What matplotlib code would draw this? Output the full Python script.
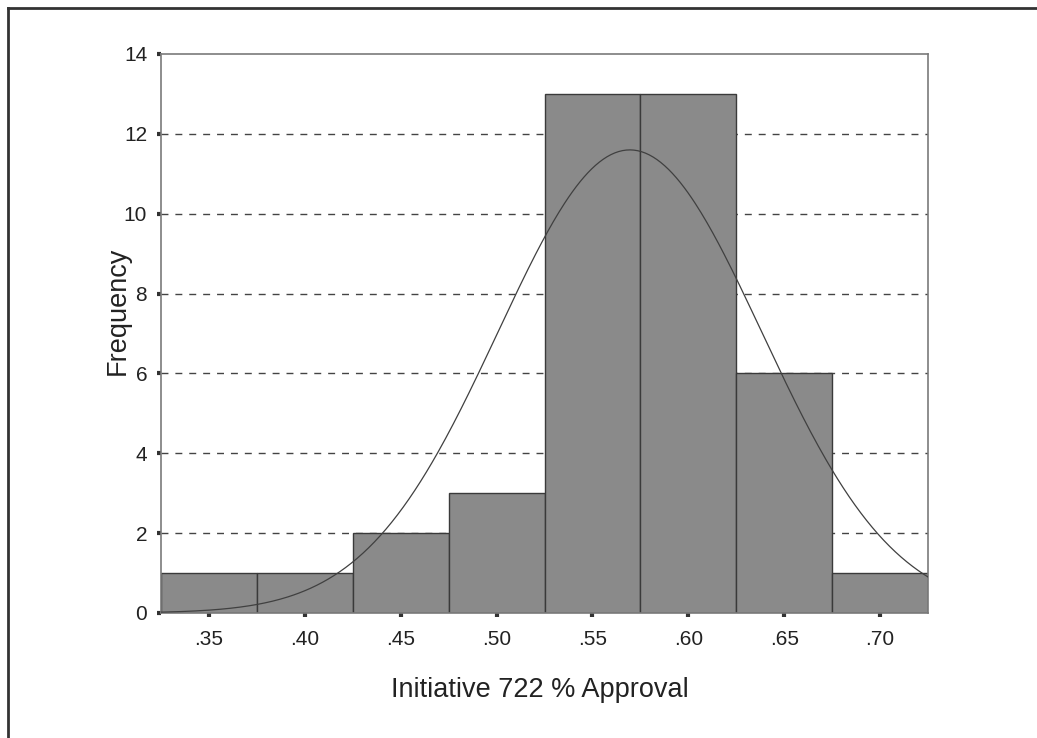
import numpy as np
import matplotlib.pyplot as plt
from matplotlib.lines import Line2D

plt.rcParams['font.family'] = ['Liberation Sans', 'DejaVu Sans']

# histogram bins (left edges) and counts
bin_edges = [0.325, 0.375, 0.425, 0.475, 0.525, 0.575, 0.625, 0.675, 0.725]
counts = [1, 1, 2, 3, 13, 13, 6, 1]

# fitted normal curve parameters
n_obs = 40
mean = 0.5695
std_dev = 0.0688

x_ticks = [0.35, 0.40, 0.45, 0.50, 0.55, 0.60, 0.65, 0.70]
x_tick_labels = ['.35', '.40', '.45', '.50', '.55', '.60', '.65', '.70']
y_ticks = [0, 2, 4, 6, 8, 10, 12, 14]

fig = plt.figure(figsize=(10.37, 7.38), dpi=100)
ax = fig.add_axes([0.1553, 0.1694, 0.7396, 0.7575])

lefts = np.array(bin_edges[:-1])
widths = np.diff(bin_edges)
ax.bar(lefts, counts, width=widths, align='edge', color='#8a8a8a',
       edgecolor='#3a3a3a', linewidth=1.0, zorder=2)

# normal curve scaled to counts
bin_w = widths[0]
xs = np.linspace(bin_edges[0], bin_edges[-1], 400)
ys = n_obs * bin_w * np.exp(-0.5 * ((xs - mean) / std_dev) ** 2) / (std_dev * np.sqrt(2 * np.pi))
ax.plot(xs, ys, color='#404040', linewidth=0.9, zorder=3)

# dashed reference lines behind bars
for yv in y_ticks[1:-1]:
    ax.axhline(yv, color='#444444', linestyle=(0, (5, 5)), linewidth=1.0, zorder=1)

ax.set_xlim(bin_edges[0], bin_edges[-1])
ax.set_ylim(0, 14)
ax.set_xticks(x_ticks)
ax.set_xticklabels(x_tick_labels)
ax.set_yticks(y_ticks)
ax.tick_params(axis='both', length=3, width=3, color='#333333', labelsize=15,
               labelcolor='#222222')
ax.tick_params(axis='x', pad=9)
ax.tick_params(axis='y', pad=7)

for side in ['left', 'right', 'top', 'bottom']:
    ax.spines[side].set_color('#7a7a7a')
    ax.spines[side].set_linewidth(1.2)

ax.set_ylabel('Frequency', fontsize=19.5, color='#222222')
ax.set_xlabel('Initiative 722 % Approval', fontsize=19.5, color='#222222')
ax.yaxis.set_label_coords(-0.039, 0.54)
ax.xaxis.set_label_coords(0.494, -0.114)

# outer frame along the top and left edges
fig.add_artist(Line2D([0.008, 0.008], [0.0, 0.989], transform=fig.transFigure,
                      color='#333333', linewidth=2))
fig.add_artist(Line2D([0.008, 1.0], [0.989, 0.989], transform=fig.transFigure,
                      color='#333333', linewidth=2))

fig.savefig('out.png', dpi=100)
